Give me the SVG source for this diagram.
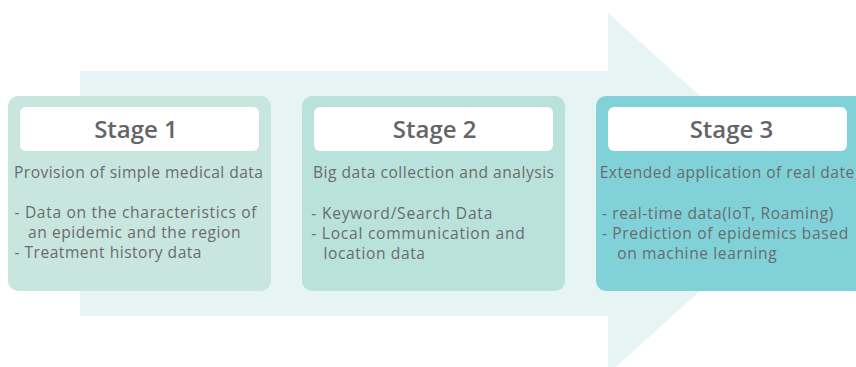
<svg xmlns="http://www.w3.org/2000/svg" width="856" height="367" viewBox="0 0 856 367">
<style>
.hdr{fill:#ffffff}
.title{font-family:"Open Sans","Noto Sans",sans-serif;font-size:24px;font-weight:600;fill:#646569;text-anchor:middle}
.txt{font-family:"Open Sans","Noto Sans",sans-serif;font-size:15.6px;fill:#6a6b6e}
</style>
<g id="arrow">
<path d="M80 71 H608 V13 L808 193.5 L608 374 V316 H80 Z" fill="#e6f5f4"/>
</g>
<g id="stage1">
<rect x="8" y="96" width="263" height="195" rx="10" fill="#c8e6de"/>
<rect class="hdr" x="20" y="107" width="239" height="44" rx="6"/>
<text class="title" x="136" y="138.3">Stage 1</text>
<text class="txt" x="14" y="178.3" textLength="249" lengthAdjust="spacing">Provision of simple medical data</text>
<text class="txt" x="14.5" y="218" textLength="242" lengthAdjust="spacing">- Data on the characteristics of</text>
<text class="txt" x="28" y="238" textLength="212.5" lengthAdjust="spacing">an epidemic and the region</text>
<text class="txt" x="14.5" y="258" textLength="187" lengthAdjust="spacing">- Treatment history data</text>
</g>
<g id="stage2">
<rect x="302" y="96" width="263" height="195" rx="10" fill="#b8e2db"/>
<rect class="hdr" x="314" y="107" width="239" height="44" rx="6"/>
<text class="title" x="434.7" y="138.3">Stage 2</text>
<text class="txt" x="313" y="178.3" textLength="241" lengthAdjust="spacing">Big data collection and analysis</text>
<text class="txt" x="311.3" y="219" textLength="181" lengthAdjust="spacing">- Keyword/Search Data</text>
<text class="txt" x="311.3" y="239" textLength="213.5" lengthAdjust="spacing">- Local communication and</text>
<text class="txt" x="323.5" y="259" textLength="101.5" lengthAdjust="spacing">location data</text>
</g>
<g id="stage3">
<rect x="596" y="96" width="280" height="195" rx="10" fill="#80d2d8"/>
<rect class="hdr" x="608" y="107" width="239" height="44" rx="6"/>
<text class="title" x="731.5" y="138.3">Stage 3</text>
<text class="txt" x="599.7" y="178.3" textLength="254.5" lengthAdjust="spacing">Extended application of real date</text>
<text class="txt" x="602" y="219" textLength="231.3" lengthAdjust="spacing">- real-time data(IoT, Roaming)</text>
<text class="txt" x="602" y="239" textLength="246.3" lengthAdjust="spacing">- Prediction of epidemics based</text>
<text class="txt" x="617.3" y="259" textLength="159.4" lengthAdjust="spacing">on machine learning</text>
</g>
<g id="connectors"></g>
</svg>
